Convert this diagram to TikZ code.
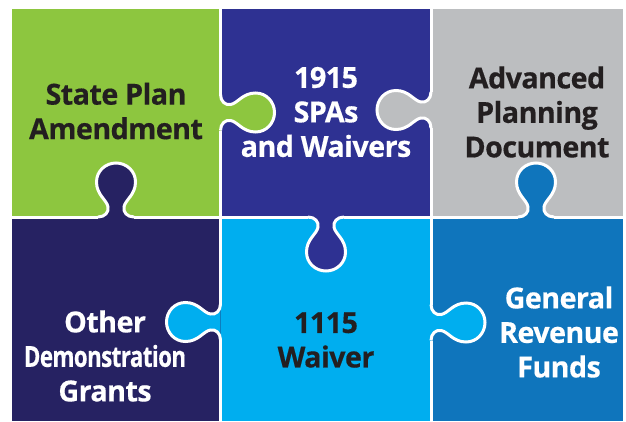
\documentclass[tikz,border=0pt]{standalone}
\usepackage{fontspec}
\setmainfont{Open Sans}[BoldFont=* Bold,BoldFeatures={FakeStretch=0.99,FakeBold=0.4,LetterSpace=-2}]
\newfontfamily\condfont{Open Sans}[BoldFont=* Bold,BoldFeatures={FakeStretch=0.77,FakeBold=0.4,LetterSpace=-2}]
\definecolor{pgreen}{HTML}{8DC63F}
\definecolor{ppurple}{HTML}{2E3192}
\definecolor{pgray}{HTML}{BCBEC0}
\definecolor{pnavy}{HTML}{262262}
\definecolor{pcyan}{HTML}{00AEEF}
\definecolor{pblue}{HTML}{0F75BC}
\definecolor{pink}{HTML}{231F20}
\tikzset{
  seam/.style={draw=white,line width=3pt},
  piecelabel/.style={font=\bfseries\fontsize{29}{34.5}\selectfont,align=center,inner sep=0pt}
}
\newcommand{\tabcurve}{(-18,0) .. controls (-11,0) and (-7,-5) .. (-8,-10)
  .. controls (-9,-17) and (-19.5,-22) .. (-19.5,-35)
  .. controls (-19.5,-46) and (-10.5,-54) .. (0,-54)
  .. controls (10.5,-54) and (19.5,-46) .. (19.5,-35)
  .. controls (19.5,-22) and (9,-17) .. (8,-10)
  .. controls (7,-5) and (11,0) .. (18,0)}
\newcommand{\tabfill}[5]{\begin{scope}[shift={(#1,#2)},x={#3},y={#4}]\fill[#5] \tabcurve -- cycle;\end{scope}}
\newcommand{\tabline}[4]{\begin{scope}[shift={(#1,#2)},x={#3},y={#4}]\draw[seam] \tabcurve;\end{scope}}
\begin{document}
\begin{tikzpicture}[x=1pt,y=-1pt]
\useasboundingbox (0,0) rectangle (626,421);
\fill[pgreen] (12,9) rectangle (220.5,217);
\fill[ppurple] (220.5,9) rectangle (431,217);
\fill[pgray] (431,9) rectangle (623,217);
\fill[pnavy] (12,217) rectangle (220.5,421);
\fill[pcyan] (220.5,217) rectangle (431,421);
\fill[pblue] (431,217) rectangle (623,421);
\tabfill{116}{217}{(1pt,0)}{(0,-1pt)}{pnavy}
\tabfill{536}{217}{(1pt,0)}{(0,-1pt)}{pblue}
\tabfill{326}{217}{(1pt,0)}{(0,1pt)}{ppurple}
\tabfill{220.5}{112.5}{(0,-1pt)}{(-1pt,0)}{pgreen}
\tabfill{431}{110}{(0,-1pt)}{(1pt,0)}{pgray}
\tabfill{220.5}{322}{(0,-1pt)}{(1pt,0)}{pcyan}
\tabfill{431}{322.5}{(0,-1pt)}{(-1pt,0)}{pcyan}
\tabline{116}{217}{(1pt,0)}{(0,-1pt)}
\tabline{536}{217}{(1pt,0)}{(0,-1pt)}
\tabline{326}{217}{(1pt,0)}{(0,1pt)}
\tabline{220.5}{112.5}{(0,-1pt)}{(-1pt,0)}
\tabline{431}{110}{(0,-1pt)}{(1pt,0)}
\tabline{220.5}{322}{(0,-1pt)}{(1pt,0)}
\tabline{431}{322.5}{(0,-1pt)}{(-1pt,0)}
\draw[seam] (12,217) -- (98,217) (134,217) -- (308,217) (344,217) -- (518,217) (554,217) -- (623,217);
\draw[seam] (220.5,9) -- (220.5,94.5) (220.5,130.5) -- (220.5,304) (220.5,340) -- (220.5,421);
\draw[seam] (431,9) -- (431,92) (431,128) -- (431,304.5) (431,340.5) -- (431,421);
\node[piecelabel,text=pink] (plan) at (116,111) {State Plan\\Amendment};
\node[piecelabel,text=white] (spa) at (326,112) {1915\\SPAs\\and Waivers};
\node[piecelabel,text=pink] (apd) at (537,112) {Advanced\\Planning\\Document};
\node[piecelabel,text=white] (demo) at (105,356) {Other\\{\condfont\bfseries Demonstration}\\Grants};
\node[piecelabel,text=pink] (w1115) at (326,340) {1115\\Waiver};
\node[piecelabel,text=white] (grf) at (559,332) {General\\Revenue\\Funds};
\end{tikzpicture}
\end{document}
